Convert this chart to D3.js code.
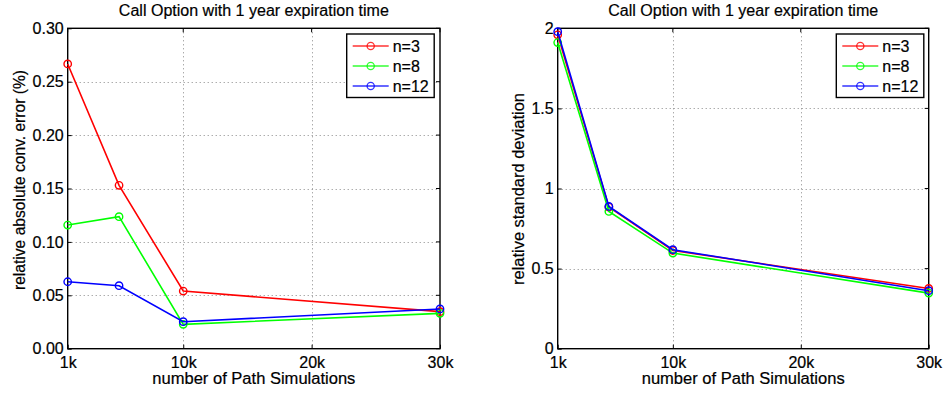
<!DOCTYPE html>
<html><head><meta charset="utf-8">
<script src="https://cdn.jsdelivr.net/npm/d3@7"></script>
<style>body{margin:0;background:#fff}svg{font-family:"Liberation Sans",Arial,sans-serif}
text{stroke:#000;stroke-width:0.2px}</style>
</head><body><svg id="c" width="944" height="394"></svg>
<script>
const xValues = [1000, 5000, 10000, 30000];
const xTickValues = [1000, 10000, 20000, 30000];
const xTickLabels = ["1k", "10k", "20k", "30k"];
const seriesNames = ["n=3", "n=8", "n=12"];
const seriesColors = ["#ff0000", "#00ff00", "#0000ff"];
const errN3 = [0.2666, 0.153, 0.054, 0.0347];
const errN8 = [0.1158, 0.1236, 0.0228, 0.0331];
const errN12 = [0.0627, 0.059, 0.0253, 0.0372];
const sdN3 = [1.959, 0.884, 0.613, 0.376];
const sdN8 = [1.911, 0.857, 0.597, 0.347];
const sdN12 = [1.979, 0.888, 0.618, 0.362];
const leftYTicks = [0, 0.05, 0.10, 0.15, 0.20, 0.25, 0.30];
const rightYTicks = [0, 0.5, 1, 1.5, 2];
const titleText = "Call Option with 1 year expiration time";
const xLabel = "number of Path Simulations";

const svg = d3.select("#c");

function panel(opt) {
  const g = svg.append("g");
  const x = d3.scaleLinear().domain([1000, 30000]).range([opt.x0, opt.x1]);
  const y = d3.scaleLinear().domain(opt.ydom).range([opt.y1, opt.y0]);
  g.selectAll(".vg").data(xTickValues.slice(1, -1)).join("line")
    .attr("x1", d => Math.round(x(d)) + 0.5).attr("x2", d => Math.round(x(d)) + 0.5).attr("y1", opt.y0).attr("y2", opt.y1)
    .attr("stroke", "#888").attr("stroke-width", 1).attr("stroke-dasharray", "1,3");
  g.selectAll(".hg").data(opt.yticks.slice(1, -1)).join("line")
    .attr("y1", d => Math.round(y(d)) + 0.5).attr("y2", d => Math.round(y(d)) + 0.5).attr("x1", opt.x0).attr("x2", opt.x1)
    .attr("stroke", "#888").attr("stroke-width", 1).attr("stroke-dasharray", "1,3");
  const xa = g.append("g").attr("transform", `translate(0,${opt.y1})`)
    .call(d3.axisBottom(x).tickValues(xTickValues).tickFormat((d, i) => xTickLabels[i]).tickSizeInner(-4).tickSizeOuter(0).tickPadding(8));
  const ya = g.append("g").attr("transform", `translate(${opt.x0},0)`)
    .call(d3.axisLeft(y).tickValues(opt.yticks).tickFormat(opt.fmt).tickSizeInner(-4).tickSizeOuter(0).tickPadding(4));
  [xa, ya].forEach(a => {
    a.selectAll("text").attr("font-size", 16).attr("fill", "#000");
    a.select(".domain").remove();
    a.selectAll("line").attr("stroke", "#000");
  });
  xa.selectAll("text").attr("dy", "0.71em").attr("y", 8);
  g.selectAll(".tt").data(xTickValues).join("line")
    .attr("x1", d => x(d)).attr("x2", d => x(d)).attr("y1", opt.y0).attr("y2", opt.y0 + 4).attr("stroke", "#000");
  g.selectAll(".rt").data(opt.yticks).join("line")
    .attr("y1", d => y(d)).attr("y2", d => y(d)).attr("x1", opt.x1).attr("x2", opt.x1 - 4).attr("stroke", "#000");
  g.append("rect").attr("x", opt.x0).attr("y", opt.y0).attr("width", opt.x1 - opt.x0).attr("height", opt.y1 - opt.y0)
    .attr("fill", "none").attr("stroke", "#000").attr("stroke-width", 1.4);
  const line = d3.line().x((d, i) => x(xValues[i])).y(d => y(d));
  opt.series.forEach((s, k) => {
    g.append("path").attr("d", line(s)).attr("fill", "none").attr("stroke", seriesColors[k]).attr("stroke-width", 1.6);
    g.selectAll(null).data(s).join("circle")
      .attr("cx", (d, i) => x(xValues[i])).attr("cy", d => y(d)).attr("r", 3.7)
      .attr("fill", "none").attr("stroke", seriesColors[k]).attr("stroke-width", 1.4);
  });
  g.append("text").attr("x", (opt.x0 + opt.x1) / 2).attr("y", 16).attr("text-anchor", "middle")
    .attr("font-size", 16).attr("textLength", 270).attr("lengthAdjust", "spacingAndGlyphs").text(titleText);
  g.append("text").attr("x", (opt.x0 + opt.x1) / 2).attr("y", 384).attr("text-anchor", "middle")
    .attr("font-size", 16).attr("textLength", 203).attr("lengthAdjust", "spacingAndGlyphs").text(xLabel);
  g.append("text").attr("transform", `translate(${opt.ylx},${opt.ylc}) rotate(-90)`)
    .attr("text-anchor", "middle").attr("font-size", 16).attr("textLength", opt.ylen).attr("lengthAdjust", "spacingAndGlyphs").text(opt.ylabel);
  const lg = g.append("g").attr("transform", `translate(${opt.lx},34)`);
  lg.append("rect").attr("x", 0).attr("y", 0).attr("width", 87.5).attr("height", 63.5)
    .attr("fill", "#fff").attr("stroke", "#000").attr("stroke-width", 1.4);
  seriesNames.forEach((n, k) => {
    const yy = 12 + k * 20;
    lg.append("line").attr("x1", 6).attr("x2", 42).attr("y1", yy).attr("y2", yy)
      .attr("stroke", seriesColors[k]).attr("stroke-width", 1.4).attr("stroke-opacity", 0.8);
    lg.append("circle").attr("cx", 24).attr("cy", yy).attr("r", 3.6).attr("fill", "none")
      .attr("stroke", seriesColors[k]).attr("stroke-width", 1.3).attr("stroke-opacity", 0.8);
    lg.append("text").attr("x", 46).attr("y", yy).attr("dy", "0.36em").attr("font-size", 16).text(n);
  });
}

panel({x0: 67.7, x1: 440, y0: 28.3, y1: 348.7, ydom: [0, 0.30], yticks: leftYTicks,
  fmt: d3.format(".2f"), series: [errN3, errN8, errN12], ylabel: "relative absolute conv. error (%)",
  ylx: 25, ylc: 180, ylen: 220, lx: 346.7});
panel({x0: 557.7, x1: 928.7, y0: 28.3, y1: 348.7, ydom: [0, 2], yticks: rightYTicks,
  fmt: d => String(d), series: [sdN3, sdN8, sdN12], ylabel: "relative standard deviation",
  ylx: 524, ylc: 189, ylen: 192, lx: 836.3});
</script></body></html>
